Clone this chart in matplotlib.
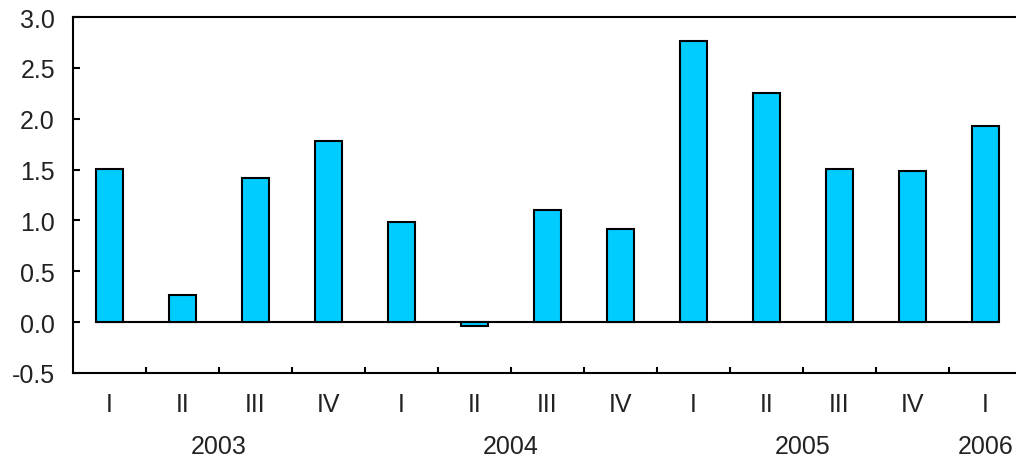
import matplotlib.pyplot as plt
import matplotlib.transforms as mtransforms

quarters = ['I', 'II', 'III', 'IV', 'I', 'II', 'III', 'IV', 'I', 'II', 'III', 'IV', 'I']
values = [1.51, 0.27, 1.42, 1.78, 0.98, -0.04, 1.10, 0.92, 2.76, 2.25, 1.51, 1.49, 1.93]
years = ['2003', '2004', '2005', '2006']
year_centers = [1.5, 5.5, 9.5, 12.0]
yticks = [-0.5, 0.0, 0.5, 1.0, 1.5, 2.0, 2.5, 3.0]

plt.rcParams['font.family'] = ['Liberation Sans', 'DejaVu Sans']
txt = '#222222'

fig = plt.figure(figsize=(10.16, 4.6), dpi=100)
ax = fig.add_axes([73/1016, 1 - 374/460, 949/1016, 356/460])

xs = list(range(len(values)))
w = 0.37
ax.bar(xs, values, width=w, color='#00CCFF', edgecolor='black', linewidth=1.5, zorder=3)
ax.hlines(0, xs[0] - w/2, xs[-1] + w/2, color='black', linewidth=1.5, zorder=2)

ax.set_xlim(-0.5, len(values) - 0.5)
ax.set_ylim(-0.5, 3.0)

ax.set_yticks(yticks)
ax.set_yticklabels([f'{v:.1f}' for v in yticks])
ax.tick_params(axis='y', direction='in', length=5, width=1.5, pad=13,
               labelsize=18, labelcolor=txt)

ax.set_xticks(xs)
ax.set_xticklabels(quarters)
ax.tick_params(axis='x', which='major', length=0, pad=14, labelsize=18, labelcolor=txt)
ax.set_xticks([i + 0.5 for i in xs[:-1]], minor=True)
ax.tick_params(axis='x', which='minor', direction='in', length=4, width=1.5)

for side in ['left', 'top', 'bottom', 'right']:
    ax.spines[side].set_linewidth(1.5)

trans = mtransforms.blended_transform_factory(ax.transData, fig.transFigure)
for yr, c in zip(years, year_centers):
    ax.text(c, 1 - 447/460, yr, transform=trans, ha='center', va='center',
            fontsize=18, color=txt, clip_on=False)

fig.savefig('out.png', dpi=100)
